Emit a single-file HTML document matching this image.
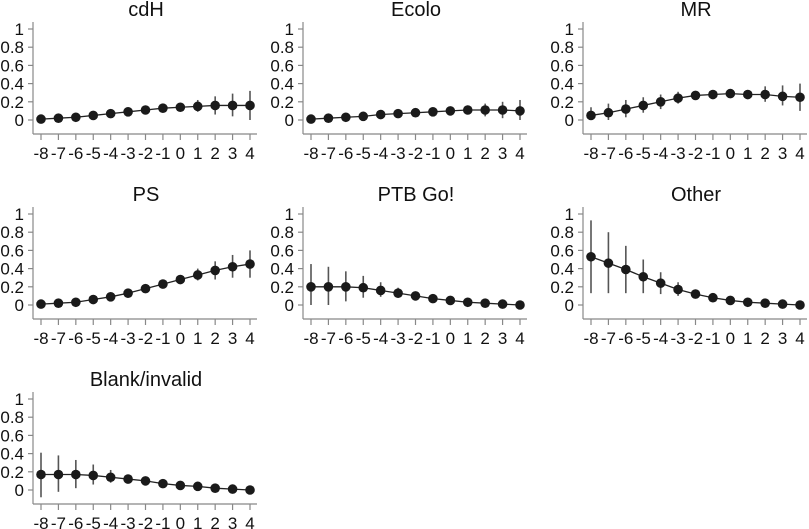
<!DOCTYPE html>
<html><head><meta charset="utf-8"><style>
body{margin:0;background:#fff;}
svg{display:block;font-family:"Liberation Sans",Arial,sans-serif;}
</style></head><body>
<svg id="c" width="809" height="529"></svg>
<script>
const categories=[-8,-7,-6,-5,-4,-3,-2,-1,0,1,2,3,4];
const yTicks=[0,0.2,0.4,0.6,0.8,1];
const yTickLabels=["0","0.2","0.4","0.6","0.8","1"];
const titles=["cdH","Ecolo","MR","PS","PTB Go!","Other","Blank/invalid"];
const cdHMean=[.01,.02,.03,.05,.07,.09,.11,.13,.14,.15,.16,.16,.16];
const cdHLo=[0,.01,.02,.03,.04,.06,.08,.1,.11,.09,.06,.04,0];
const cdHHi=[.02,.03,.05,.07,.1,.12,.14,.16,.18,.22,.26,.29,.32];
const ecoloMean=[.01,.02,.03,.04,.06,.07,.08,.09,.10,.11,.11,.11,.10];
const ecoloLo=[0,.01,.02,.03,.04,.05,.06,.07,.07,.06,.04,.02,0];
const ecoloHi=[.02,.03,.04,.06,.08,.09,.1,.12,.13,.16,.18,.2,.22];
const mrMean=[.05,.08,.12,.16,.2,.24,.27,.28,.29,.28,.28,.26,.25];
const mrLo=[0,0,.03,.08,.12,.18,.23,.25,.26,.23,.2,.16,.1];
const mrHi=[.14,.18,.22,.25,.28,.31,.31,.31,.32,.33,.37,.38,.4];
const psMean=[.01,.02,.03,.06,.09,.13,.18,.23,.28,.33,.38,.42,.45];
const psLo=[0,.01,.02,.04,.07,.11,.16,.21,.25,.27,.28,.3,.3];
const psHi=[.02,.03,.05,.08,.11,.16,.21,.26,.32,.4,.48,.55,.6];
const ptbMean=[.2,.2,.2,.19,.16,.13,.1,.07,.05,.03,.02,.01,.0];
const ptbLo=[0,0,.04,.08,.09,.08,.08,.06,.04,.02,.01,0,0];
const ptbHi=[.45,.42,.37,.32,.25,.19,.13,.09,.06,.04,.03,.02,.01];
const otherMean=[.53,.46,.39,.31,.24,.17,.12,.08,.05,.03,.02,.01,.0];
const otherLo=[.13,.13,.13,.13,.12,.1,.09,.06,.04,.02,.01,0,0];
const otherHi=[.93,.8,.65,.5,.36,.25,.15,.1,.06,.04,.03,.02,.01];
const blankMean=[.17,.17,.17,.16,.14,.12,.1,.07,.05,.04,.02,.01,.0];
const blankLo=[-.08,-.02,.02,.06,.08,.08,.08,.06,.04,.03,.01,0,0];
const blankHi=[.41,.38,.33,.28,.22,.16,.12,.09,.06,.05,.03,.02,.01];
const means=[cdHMean,ecoloMean,mrMean,psMean,ptbMean,otherMean,blankMean];
const los=[cdHLo,ecoloLo,mrLo,psLo,ptbLo,otherLo,blankLo];
const his=[cdHHi,ecoloHi,mrHi,psHi,ptbHi,otherHi,blankHi];

const svg=document.getElementById('c');
const NS='http://www.w3.org/2000/svg';
function mk(t,a,p){const e=document.createElementNS(NS,t);for(const k in a)e.setAttribute(k,a[k]);p.appendChild(e);return e;}
const colOff=[0,270,550],rowOff=[0,185,370];
titles.forEach((title,i)=>{
  const ox=colOff[i%3],oy=rowOff[Math.floor(i/3)];
  const g=mk('g',{},svg);
  
  
  const x=v=>ox+41+(v-categories[0])*(209/(categories[categories.length-1]-categories[0]));
  const y=v=>oy+120-v*91;
  const t=mk('text',{x:ox+146,y:oy+16,'text-anchor':'middle','font-size':20,fill:'#111'},g);
  t.textContent=title;
  
  
  const ya=mk('line',{x1:ox+33,x2:ox+33,y1:oy+22,y2:oy+134,stroke:'#888','stroke-width':1.2},g);
  
  
  yTicks.forEach((v,k)=>{
    mk('line',{x1:ox+28,x2:ox+33,y1:y(v),y2:y(v),stroke:'#888','stroke-width':1.2},g);
    const l=mk('text',{x:ox+24,y:y(v)+6,'text-anchor':'end','font-size':17,fill:'#111'},g);
    l.textContent=yTickLabels[k];
    
    
  });
  const xa=mk('line',{x1:ox+33,x2:ox+257,y1:oy+134,y2:oy+134,stroke:'#888','stroke-width':1.2},g);
  
  
  categories.forEach(c=>{
    mk('line',{x1:x(c),x2:x(c),y1:oy+134,y2:oy+140,stroke:'#888','stroke-width':1.2},g);
    const l=mk('text',{x:x(c),y:oy+159,'text-anchor':'middle','font-size':17,fill:'#111'},g);
    l.textContent=String(c);
    
    
  });
  const m=means[i],lo=los[i],hi=his[i];
  categories.forEach((c,k)=>{
    const e=mk('line',{x1:x(c),x2:x(c),y1:y(lo[k]),y2:y(hi[k]),stroke:'#555','stroke-width':1.6},g);
    
    
  });
  const p=mk('polyline',{points:categories.map((c,k)=>x(c)+','+y(m[k])).join(' '),fill:'none',stroke:'#222','stroke-width':1.3},g);
  
  
  categories.forEach((c,k)=>{
    const d=mk('circle',{cx:x(c),cy:y(m[k]),r:4.8,fill:'#1a1a1a'},g);
    
    
  });
});
</script>
</body></html>
